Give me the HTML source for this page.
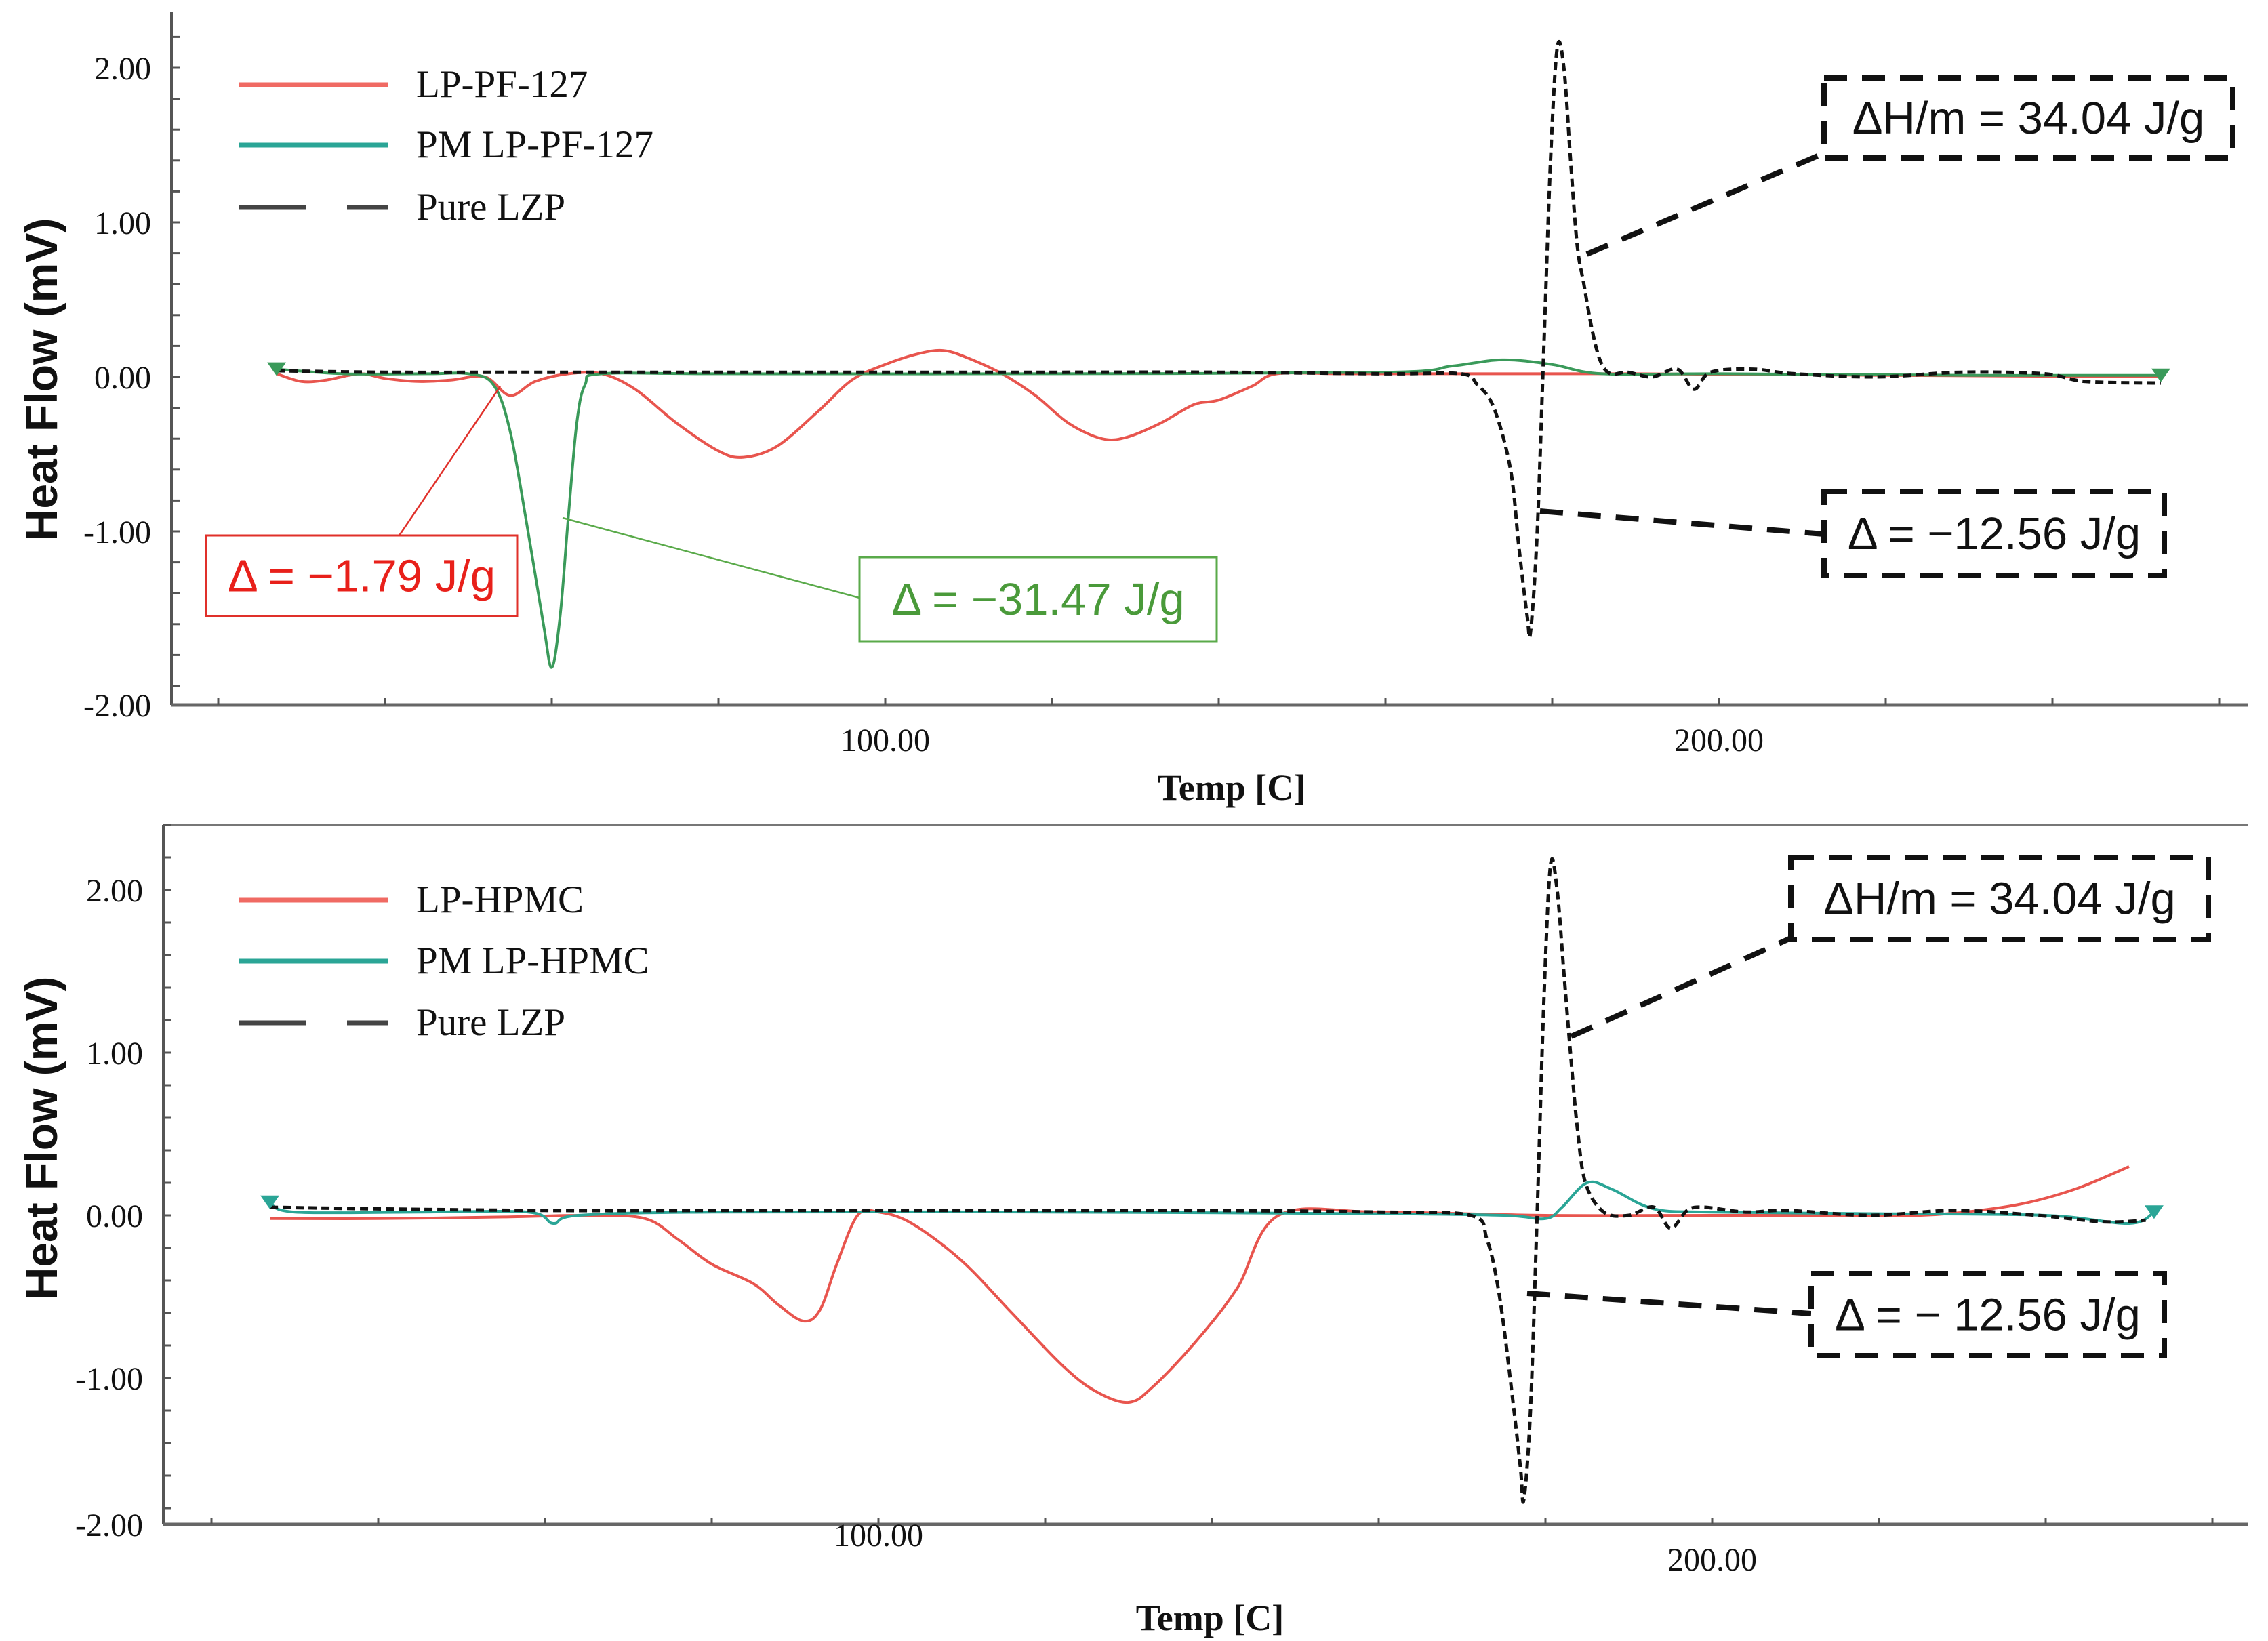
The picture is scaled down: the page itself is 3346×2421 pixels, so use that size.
<!DOCTYPE html>
<html><head><meta charset="utf-8">
<style>
html,body{margin:0;padding:0;background:#fff;}
svg{display:block;}
.tk{font-family:"Liberation Serif",serif;font-size:48px;fill:#111;}
.lg{font-family:"Liberation Serif",serif;font-size:57px;fill:#111;}
.yt{font-family:"Liberation Sans",sans-serif;font-size:66px;font-weight:bold;fill:#111;}
.xt{font-family:"Liberation Serif",serif;font-size:54px;font-weight:bold;fill:#111;}
.an{font-family:"Liberation Sans",sans-serif;font-size:67px;}
</style></head>
<body>
<svg id="chart" width="3346" height="2421" viewBox="0 0 3346 2421" xmlns="http://www.w3.org/2000/svg">
<g id="top"></g>
<g id="bot"></g>
</svg>
<script>
// ---- data (temperature in C, heat flow in mV) ----
const yTicks = [2, 1, 0, -1, -2];
const yTickLabels = ["2.00", "1.00", "0.00", "-1.00", "-2.00"];
const xTickLabels = ["100.00", "200.00"];
const xTickValues = [100, 200];

// top panel
const topRedT = [27,30,33,37,40,44,48,52,55,58,62,66,70,75,80,83,87,92,96,100,104,107,110,114,118,122,126,129,133,137,140,144,147,155,170,190,220,253];
const topRedV = [0.02,-0.03,-0.02,0.02,-0.01,-0.03,-0.02,0.0,-0.12,-0.03,0.02,0.02,-0.08,-0.3,-0.48,-0.52,-0.45,-0.22,-0.02,0.08,0.15,0.17,0.12,0.02,-0.12,-0.3,-0.4,-0.39,-0.3,-0.18,-0.15,-0.06,0.02,0.02,0.02,0.02,0.01,0.0];
const topGreenT = [27,35,45,50,53,55,57,59,60,61,62,63,64,66,80,120,160,168,174,180,186,200,230,253];
const topGreenV = [0.05,0.02,0.02,0.02,-0.05,-0.35,-0.95,-1.6,-1.88,-1.55,-0.9,-0.3,-0.05,0.02,0.02,0.02,0.03,0.07,0.11,0.08,0.02,0.02,0.01,0.01];
const topBlackT = [27,40,60,80,100,120,140,160,169,171,173,175,176,177,177.4,178.2,179,179.8,180.6,181.4,182.2,183,183.8,184.8,185.8,187,189,192,195,197,199,204,209,219,229,239,244,253];
const topBlackV = [0.04,0.03,0.03,0.03,0.03,0.03,0.03,0.02,0.02,-0.05,-0.2,-0.6,-1.1,-1.55,-1.65,-1.0,0.2,1.4,2.13,2.0,1.4,0.85,0.6,0.3,0.1,0.02,0.03,0.0,0.05,-0.08,0.03,0.05,0.02,0.0,0.03,0.02,-0.03,-0.04];

// bottom panel
const botRedT = [27,40,55,65,72,76,80,85,88,91,93,95,97.5,100,104,110,116,122,126,130,133,138,143,148,160,180,200,215,225,232,238,244,250];
const botRedV = [-0.02,-0.02,-0.01,0.0,-0.02,-0.15,-0.3,-0.42,-0.55,-0.65,-0.58,-0.3,0.0,0.02,-0.05,-0.28,-0.6,-0.92,-1.08,-1.15,-1.05,-0.78,-0.45,0.0,0.02,0.0,0.0,0.0,0.0,0.03,0.08,0.17,0.3];
const botTealT = [27,30,45,58,61,64,80,120,160,175,180,182,185,188,193,200,220,240,250,253];
const botTealV = [0.08,0.02,0.02,0.02,-0.05,0.0,0.02,0.02,0.01,0.0,-0.02,0.05,0.2,0.16,0.04,0.02,0.01,0.0,-0.05,0.02];
const botBlackT = [27,40,60,80,100,120,140,160,171,173,174.5,176,177,177.4,178.2,179,179.8,180.6,181.4,182.2,183,183.8,184.8,187,190,193,195,197,199,204,209,219,229,239,247,252];
const botBlackV = [0.05,0.04,0.03,0.03,0.03,0.03,0.03,0.02,0.0,-0.15,-0.5,-1.1,-1.55,-1.75,-1.2,0.0,1.3,2.15,2.0,1.5,1.0,0.55,0.2,0.02,0.0,0.05,-0.08,0.03,0.05,0.02,0.03,0.0,0.03,0.0,-0.04,-0.03];

const NS = "http://www.w3.org/2000/svg";
function mk(parent, tag, attrs){
  const e = document.createElementNS(NS, tag);
  for (const k in attrs) e.setAttribute(k, attrs[k]);
  parent.appendChild(e);
  return e;
}
function smoothPath(pts){
  let d = "M" + pts[0][0].toFixed(1) + "," + pts[0][1].toFixed(1);
  for (let i = 0; i < pts.length - 1; i++){
    const p0 = pts[Math.max(0,i-1)], p1 = pts[i], p2 = pts[i+1], p3 = pts[Math.min(pts.length-1,i+2)];
    const c1x = p1[0] + (p2[0]-p0[0])/6, c1y = p1[1] + (p2[1]-p0[1])/6;
    const c2x = p2[0] - (p3[0]-p1[0])/6, c2y = p2[1] - (p3[1]-p1[1])/6;
    d += " C" + c1x.toFixed(1)+","+c1y.toFixed(1)+" "+c2x.toFixed(1)+","+c2y.toFixed(1)+" "+p2[0].toFixed(1)+","+p2[1].toFixed(1);
  }
  return d;
}

function panel(g, cfg){
  const xs = t => cfg.x0 + t * cfg.kx;
  const ys = v => cfg.y0 - v * cfg.ky;
  const ax = mk(g, "line", {x1:cfg.axX, y1:cfg.top, x2:cfg.axX, y2:cfg.axY, stroke:"#555", "stroke-width":4});
  
  
  const bx = mk(g, "line", {x1:cfg.axX, y1:cfg.axY, x2:cfg.right, y2:cfg.axY, stroke:"#666", "stroke-width":5});
  
  
  if (cfg.topBorder){
    const tb = mk(g, "line", {x1:cfg.axX, y1:cfg.top, x2:cfg.right, y2:cfg.top, stroke:"#777", "stroke-width":4});
    
    
  }
  for (let v = -2; v <= 2.41; v += 0.2){
    const y = ys(v);
    if (y < cfg.top || y > cfg.axY) continue;
    const t = mk(g, "line", {x1:cfg.axX, y1:y, x2:cfg.axX+12, y2:y, stroke:"#555", "stroke-width":3});
    
    
  }
  yTicks.forEach((v, i) => {
    const y = v === -2 ? cfg.axY : ys(v);
    const t = mk(g, "text", {x:cfg.axX-30, y:y+17, "text-anchor":"end", class:"tk"});
    t.setAttribute("font-size", 51);
    t.textContent = yTickLabels[i];
    
    
  });
  for (let T = 0; T <= 280; T += 20){
    const x = xs(T);
    if (x < cfg.axX + 20 || x > cfg.right) continue;
    const t = mk(g, "line", {x1:x, y1:cfg.axY-10, x2:x, y2:cfg.axY, stroke:"#555", "stroke-width":3});
    
    
  }
  xTickValues.forEach((T, i) => {
    const t = mk(g, "text", {x:xs(T), y:cfg.axY + cfg.xlabOff[i], "text-anchor":"middle", class:"tk"});
    t.setAttribute("font-size", cfg.xlabSize[i]);
    t.textContent = xTickLabels[i];
    
    
  });
  const xt = mk(g, "text", {x:cfg.xtX, y:cfg.xtY, "text-anchor":"middle", class:"xt"});
  xt.textContent = "Temp [C]";
  
  
  const yt = mk(g, "text", {x:0, y:0, "text-anchor":"middle", class:"yt", transform:"translate(84,"+cfg.ytY+") rotate(-90)"});
  yt.textContent = "Heat Flow (mV)";
  
  

  cfg.series.forEach(s => {
    const pts = s.t.map((T, i) => [xs(T), ys(s.v[i])]);
    const p = mk(g, "path", {d:smoothPath(pts), fill:"none", stroke:s.color, "stroke-width":s.w, "stroke-linejoin":"round"});
    if (s.dash) p.setAttribute("stroke-dasharray", s.dash);
    
    
  });
  const t0 = cfg.series[1].t, v0 = cfg.series[1].v;
  [[xs(t0[0]), ys(v0[0])], [xs(t0[t0.length-1]), ys(v0[v0.length-1])]].forEach(p => {
    const m = mk(g, "path", {d:"M"+(p[0]-14)+","+(p[1]-10)+" L"+(p[0]+14)+","+(p[1]-10)+" L"+p[0]+","+(p[1]+10)+" Z", fill:cfg.series[1].color});
    
    
  });

  cfg.legend.forEach((L, i) => {
    const y = cfg.legY[i];
    const ln = mk(g, "line", {x1:352, y1:y, x2:572, y2:y, stroke:L.color, "stroke-width":7});
    if (L.dash) ln.setAttribute("stroke-dasharray", "100 60");
    
    
    const tx = mk(g, "text", {x:614, y:y+18, class:"lg"});
    tx.textContent = L.label;
    
    
  });

  cfg.notes.forEach(n => {
    const l = mk(g, "line", {x1:n.lx1, y1:n.ly1, x2:n.lx2, y2:n.ly2, stroke:n.color, "stroke-width":n.lw});
    if (n.dash) l.setAttribute("stroke-dasharray", "34 22");
    
    
    const r = mk(g, "rect", {x:n.x, y:n.y, width:n.w, height:n.h, fill:"#fff", stroke:n.color, "stroke-width":n.bw});
    if (n.dash) r.setAttribute("stroke-dasharray", "34 22");
    
    
    const t = mk(g, "text", {x:n.x + n.w/2, y:n.y + n.h/2 + 23, "text-anchor":"middle", class:"an", fill:n.tcolor});
    t.textContent = n.text;
    
    
  });
}

panel(document.getElementById("top"), {
  x0:76, kx:12.3, y0:556, ky:228, axX:253, axY:1040, top:17, right:3317, topBorder:false,
  xlabOff:[68,68], xlabSize:[52,52], xtX:1817, xtY:1180, ytY:560,
  series:[
    {name:"series-lp-pf-127", t:topRedT, v:topRedV, color:"#e8554e", w:4},
    {name:"series-pm-lp-pf-127", t:topGreenT, v:topGreenV, color:"#3a9a5a", w:4},
    {name:"series-pure-lzp", t:topBlackT, v:topBlackV, color:"#111", w:5, dash:"12 7"}
  ],
  legend:[{label:"LP-PF-127", color:"#f06a63"},{label:"PM LP-PF-127", color:"#2aa596"},{label:"Pure LZP", color:"#444", dash:true}],
  legY:[125,214,306],
  notes:[
    {text:"Δ = −1.79 J/g", x:304, y:790, w:459, h:119, color:"#e0302a", tcolor:"#e8201a", bw:3, lw:2.5, lx1:589, ly1:790, lx2:738, ly2:570},
    {text:"Δ = −31.47 J/g", x:1268, y:822, w:527, h:124, color:"#5aaa4a", tcolor:"#4a9a3a", bw:3, lw:2.5, lx1:830, ly1:764, lx2:1268, ly2:882},
    {text:"ΔH/m = 34.04 J/g", x:2691, y:115, w:603, h:118, color:"#111", tcolor:"#111", bw:8, lw:8, dash:true, lx1:2341, ly1:375, lx2:2691, ly2:226},
    {text:"Δ = −12.56 J/g", x:2691, y:725, w:502, h:124, color:"#111", tcolor:"#111", bw:8, lw:8, dash:true, lx1:2272, ly1:754, lx2:2691, ly2:788}
  ]
});

panel(document.getElementById("bot"), {
  x0:66, kx:12.3, y0:1793, ky:240, axX:241, axY:2249, top:1217, right:3317, topBorder:true,
  xlabOff:[32,68], xlabSize:[26,48], xtX:1785, xtY:2405, ytY:1679,
  series:[
    {name:"series-lp-hpmc", t:botRedT, v:botRedV, color:"#e8554e", w:4},
    {name:"series-pm-lp-hpmc", t:botTealT, v:botTealV, color:"#2aa596", w:4},
    {name:"series-pure-lzp", t:botBlackT, v:botBlackV, color:"#111", w:5, dash:"12 7"}
  ],
  legend:[{label:"LP-HPMC", color:"#f06a63"},{label:"PM LP-HPMC", color:"#2aa596"},{label:"Pure LZP", color:"#444", dash:true}],
  legY:[1328,1418,1509],
  notes:[
    {text:"ΔH/m = 34.04 J/g", x:2642, y:1265, w:616, h:121, color:"#111", tcolor:"#111", bw:8, lw:8, dash:true, lx1:2318, ly1:1529, lx2:2642, ly2:1384},
    {text:"Δ = − 12.56 J/g", x:2672, y:1879, w:521, h:121, color:"#111", tcolor:"#111", bw:8, lw:8, dash:true, lx1:2253, ly1:1908, lx2:2672, ly2:1938}
  ]
});
</script>
</body></html>
